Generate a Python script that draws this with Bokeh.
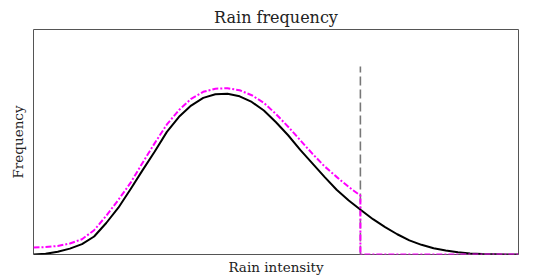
from bokeh.plotting import figure
from bokeh.models import Range1d, FixedTicker
from bokeh.embed import file_html
from bokeh.resources import INLINE

# Rain intensity (arbitrary units) sampled grid
x_vals = [0, 2.5, 5, 7.5, 10, 12.5, 15, 17.5, 20, 22.5, 25, 27.5, 30, 32.5, 35, 37.5,
          40, 42.5, 45, 47.5, 50, 52.5, 55, 57.5, 60, 62.5, 65, 67.5, 70, 72.5, 75,
          77.5, 80, 82.5, 85, 87.5, 90, 92.5, 95, 97.5, 100]
# Black curve: true frequency
freq_true = [0.000, 0.003, 0.012, 0.026, 0.046, 0.080, 0.140, 0.208, 0.290, 0.375,
             0.458, 0.545, 0.612, 0.662, 0.696, 0.712, 0.714, 0.703, 0.678, 0.640,
             0.588, 0.530, 0.465, 0.405, 0.345, 0.288, 0.240, 0.198, 0.157, 0.122,
             0.090, 0.063, 0.043, 0.028, 0.018, 0.010, 0.005, 0.002, 0.001, 0.0, 0.0]
# Magenta curve: truncated model
x_model = [0, 2.5, 5, 7.5, 10, 12.5, 15, 17.5, 20, 22.5, 25, 27.5, 30, 32.5, 35, 37.5,
           40, 42.5, 45, 47.5, 50, 52.5, 55, 57.5, 60, 62.5, 65, 67.4, 67.4, 100]
freq_model = [0.031, 0.033, 0.038, 0.049, 0.068, 0.108, 0.172, 0.243, 0.318, 0.408,
              0.495, 0.578, 0.642, 0.692, 0.723, 0.737, 0.739, 0.730, 0.708, 0.674,
              0.624, 0.568, 0.508, 0.448, 0.392, 0.345, 0.300, 0.262, 0.0, 0.0]
# Threshold line
thresh_x = [67.4, 67.4]
thresh_y = [0.0, 0.836]

FONT = "DejaVu Serif"

p = figure(width=549, height=277, output_backend="svg", toolbar_location=None,
           x_range=Range1d(0, 100), y_range=Range1d(0, 1),
           title="Rain frequency")
p.min_border_left = 33
p.min_border_right = 31
p.min_border_top = 29
p.min_border_bottom = 22
p.grid.visible = False
p.background_fill_color = "white"
p.border_fill_color = "white"
p.outline_line_color = "#555555"
p.outline_line_width = 1
p.outline_line_alpha = 1

p.title.align = "center"
p.title.text_font = FONT
p.title.text_font_style = "normal"
p.title.text_font_size = "16px"
p.title.text_color = "#222222"
p.title.standoff = 6

for ax in (p.xaxis[0], p.yaxis[0]):
    ax.ticker = FixedTicker(ticks=[])
    ax.axis_line_color = None
    ax.major_tick_line_color = None
    ax.minor_tick_line_color = None
    ax.major_tick_out = 0
    ax.major_tick_in = 0
    ax.major_label_standoff = 0
    ax.major_label_text_font_size = "0px"
    ax.axis_label_text_font = FONT
    ax.axis_label_text_font_style = "normal"
    ax.axis_label_text_font_size = "13.5px"
    ax.axis_label_text_color = "#222222"
p.xaxis.axis_label = "Rain intensity"
p.yaxis.axis_label = "Frequency"
p.xaxis[0].axis_label_standoff = 4
p.yaxis[0].axis_label_standoff = 8

p.line(thresh_x, thresh_y, line_color="#777777", line_width=1.6, line_dash="9 4")
p.line(x_vals, freq_true, line_color="black", line_width=2)
p.line(x_model, freq_model, line_color="#ff00ff", line_width=2, line_dash="6 2 2 2")

open("out.html", "w").write(file_html(p, INLINE))
